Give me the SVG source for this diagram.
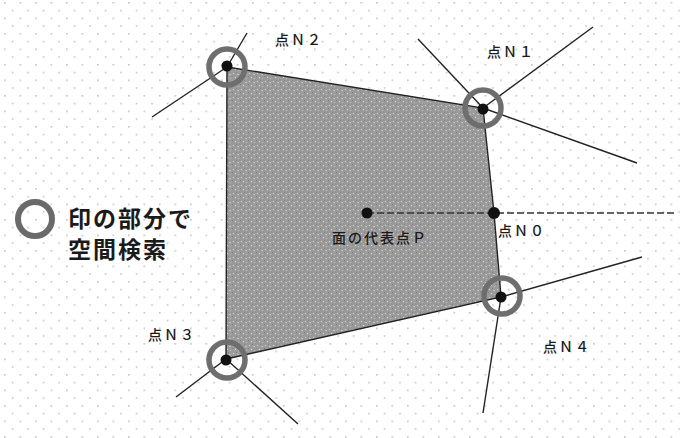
<svg xmlns="http://www.w3.org/2000/svg" width="686" height="438" viewBox="0 0 686 438">
  <defs>
    <pattern id="grid" width="15.5" height="15.5" patternUnits="userSpaceOnUse" x="4" y="2">
      <rect x="0" y="0" width="1.6" height="1.6" fill="#c4c4c4"/>
      <rect x="7.75" y="7.75" width="1.6" height="1.6" fill="#c4c4c4"/>
    </pattern>
    <pattern id="tex" width="8" height="8" patternUnits="userSpaceOnUse">
      <rect width="8" height="8" fill="#9a9a9a"/>
      <rect x="1" y="1" width="1" height="1" fill="#d8d8d8"/>
      <rect x="5" y="2" width="2" height="1" fill="#c2c2c2"/>
      <rect x="3" y="5" width="1" height="1" fill="#e0e0e0"/>
      <rect x="6" y="6" width="1" height="1" fill="#bcbcbc"/>
      <rect x="0" y="4" width="1" height="1" fill="#808080"/>
      <rect x="4" y="0" width="1" height="1" fill="#848484"/>
    </pattern>
    <style>
      .lbl { font-family: "Noto Sans CJK JP", "Noto Sans", sans-serif; font-size: 14px; font-weight: 500; letter-spacing: 2px; fill: #1a1a1a; }
      .leg { font-family: "Noto Sans CJK JP", "Noto Sans", sans-serif; font-size: 23px; font-weight: bold; letter-spacing: 2px; fill: #1a1a1a; }
      .spoke { stroke: #222; stroke-width: 1.4; fill: none; }
      .ring { stroke: #6e6e6e; stroke-width: 5.5; }
      .dot { fill: #111; }
    </style>
  </defs>

  <rect width="686" height="438" fill="#fff"/>
  <rect width="686" height="438" fill="url(#grid)"/>

  <g id="face">
    <polygon points="227,67 483,108 494,213 501,297 226,359" fill="url(#tex)" stroke="#222" stroke-width="1.4"/>
  </g>

  <g id="connectors">
    <line class="spoke" x1="227" y1="67" x2="247" y2="33"/>
    <line class="spoke" x1="227" y1="67" x2="152" y2="117"/>
    <line class="spoke" x1="483" y1="108" x2="418" y2="39"/>
    <line class="spoke" x1="483" y1="108" x2="593" y2="27"/>
    <line class="spoke" x1="483" y1="108" x2="637" y2="163"/>
    <line class="spoke" x1="226" y1="359" x2="176" y2="397"/>
    <line class="spoke" x1="226" y1="359" x2="298" y2="424"/>
    <line class="spoke" x1="501" y1="297" x2="642" y2="257"/>
    <line class="spoke" x1="501" y1="297" x2="483" y2="413"/>
    <line x1="367" y1="213" x2="674" y2="213" stroke="#333" stroke-width="1.4" stroke-dasharray="7,3"/>
  </g>

  <g id="N2">
    <circle class="ring" cx="227" cy="67" r="18" fill="none"/>
    <circle class="dot" cx="227" cy="66" r="5.5"/>
    <text class="lbl" x="275" y="45">点Ｎ２</text>
  </g>
  <g id="N1">
    <circle class="ring" cx="483" cy="108" r="18" fill="none"/>
    <circle class="dot" cx="483" cy="109" r="5.5"/>
    <text class="lbl" x="487" y="57">点Ｎ１</text>
  </g>
  <g id="N0">
    <circle class="dot" cx="494" cy="213" r="6"/>
    <text class="lbl" x="498" y="236">点Ｎ０</text>
  </g>
  <g id="P">
    <circle class="dot" cx="367" cy="213" r="5.5"/>
    <text class="lbl" x="332" y="243">面の代表点Ｐ</text>
  </g>
  <g id="N3">
    <circle class="ring" cx="227" cy="360" r="18" fill="none"/>
    <circle class="dot" cx="226" cy="360" r="5.5"/>
    <text class="lbl" x="148" y="340">点Ｎ３</text>
  </g>
  <g id="N4">
    <circle class="ring" cx="502" cy="296" r="18" fill="none"/>
    <circle class="dot" cx="501" cy="297" r="5.5"/>
    <text class="lbl" x="543" y="352">点Ｎ４</text>
  </g>

  <g id="legend">
    <circle cx="35" cy="219" r="17" fill="none" stroke="#6a6a6a" stroke-width="6"/>
    <text class="leg" x="68" y="227">印の部分で</text>
    <text class="leg" x="68" y="258">空間検索</text>
  </g>
</svg>
